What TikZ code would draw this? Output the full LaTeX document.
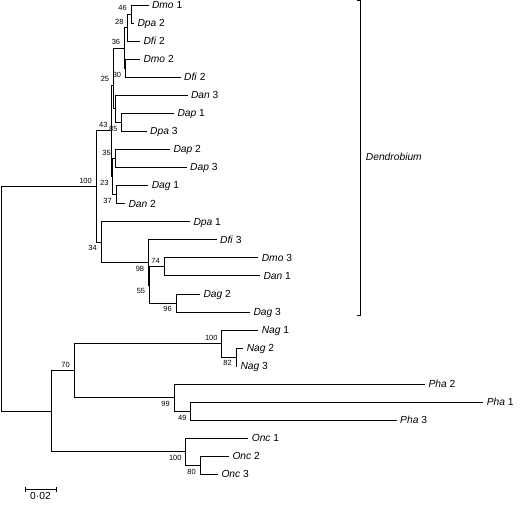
\documentclass[tikz,border=0pt]{standalone}
\usepackage{fontspec}
\setmainfont{Liberation Sans}
\usetikzlibrary{calc}

\tikzset{
  branch/.style={line width=0.6bp},
  taxon/.style={anchor=west, inner xsep=3.5bp, inner ysep=0pt, outer sep=0pt,
    text height=7.5bp, text depth=0.5bp, font=\fontsize{10.3}{12}\selectfont},
  bsup/.style={anchor=south east, inner sep=0pt, xshift=-4bp, yshift=3bp,
    font=\fontsize{7.5}{8}\selectfont},
  bsdown/.style={anchor=north east, inner sep=0pt, xshift=-4bp, yshift=-3.5bp,
    font=\fontsize{7.5}{8}\selectfont}
}

\begin{document}
\begin{tikzpicture}[x=1bp, y=-1bp]
\useasboundingbox (0,0) rectangle (520,514);

% Internal nodes
\coordinate (root)  at (0.8, 298.7);
\coordinate (n100d) at (96, 186.3);
\coordinate (n43)   at (111.7, 130.7);
\coordinate (n25)   at (113.3, 85);
\coordinate (n36)   at (124.3, 47.9);
\coordinate (n28)   at (127.7, 27.6);
\coordinate (n46)   at (131, 14);
\coordinate (n30)   at (125.3, 68.2);
\coordinate (nv)    at (115, 108.8);
\coordinate (n85)   at (121.7, 122.3);
\coordinate (n23)   at (112.7, 176.5);
\coordinate (n35)   at (115, 158.4);
\coordinate (n37)   at (116, 194.5);
\coordinate (n34)   at (101, 241.9);
\coordinate (n98)   at (148.3, 262.2);
\coordinate (n55)   at (149.3, 284.8);
\coordinate (n74)   at (164, 266.7);
\coordinate (n96)   at (176, 302.8);
\coordinate (nout)  at (51.7, 411.1);
\coordinate (n70)   at (74, 370.5);
\coordinate (n100n) at (221.7, 343.4);
\coordinate (n82)   at (236, 357);
\coordinate (n99)   at (174, 397.6);
\coordinate (n49)   at (190.7, 411.1);
\coordinate (n100o) at (185.7, 451.7);
\coordinate (n80)   at (200, 465.3);

% Taxa
\foreach \i/\g/\k/\x in {0/Dmo/1/148.5, 1/Dpa/2/134, 2/Dfi/2/140, 3/Dmo/2/140,
    4/Dfi/2/180.7, 5/Dan/3/187.5, 6/Dap/1/174, 7/Dpa/3/146.7, 8/Dap/2/170,
    9/Dap/3/186.7, 10/Dag/1/148.3, 11/Dan/2/125, 12/Dpa/1/190, 13/Dfi/3/216.7,
    14/Dmo/3/258.3, 15/Dan/1/260, 16/Dag/2/200, 17/Dag/3/250, 18/Nag/1/258.3,
    19/Nag/2/243.3, 20/Nag/3/237, 21/Pha/2/425, 22/Pha/1/483.3, 23/Pha/3/396.7,
    24/Onc/1/248.3, 25/Onc/2/229, 26/Onc/3/218} {
    \node[taxon] (l\i) at (\x, {5+18.05*\i}) {\textit{\g} \k};
}

% Branches
\foreach \p/\c in {root/n100d, root/nout, n100d/n43, n100d/n34, n43/n25, n43/n23,
    n25/n36, n25/nv, n36/n28, n36/n30, n28/n46, n28/l2, n46/l0, n46/l1,
    n30/l3, n30/l4, nv/l5, nv/n85, n85/l6, n85/l7, n23/n35, n23/n37,
    n35/l8, n35/l9, n37/l10, n37/l11, n34/l12, n34/n98, n98/l13, n98/n55,
    n55/n74, n55/n96, n74/l14, n74/l15, n96/l16, n96/l17,
    nout/n70, nout/n100o, n70/n100n, n70/n99, n100n/l18, n100n/n82,
    n82/l19, n82/l20, n99/l21, n99/n49, n49/l22, n49/l23,
    n100o/l24, n100o/n80, n80/l25, n80/l26} {
    \draw[branch] (\p) |- (\c);
}

% Bootstrap values
\foreach \n/\v in {n46/46, n28/28, n36/36, n25/25, n43/43, n35/35, n100d/100,
    n74/74, n70/70, n100n/100} {
    \node[bsup] (bs\n) at (\n) {\v};
}
\foreach \n/\v in {n30/30, n85/85, n23/23, n37/37, n34/34, n98/98, n55/55,
    n96/96, n82/82, n99/99, n49/49, n100o/100, n80/80} {
    \node[bsdown] (bs\n) at (\n) {\v};
}

% Dendrobium bracket
\coordinate (brtop) at (360.7, 0.8);
\coordinate (brbot) at (360.7, 315.5);
\draw[branch] ([xshift=-4bp]brtop) -- (brtop) -- (brbot) -- ([xshift=-4bp]brbot);
\node[anchor=west, inner sep=0pt, font=\fontsize{10.3}{12}\selectfont\itshape]
    (genus) at (365.7, 157.3) {Dendrobium};

% Scale bar
\coordinate (sbl) at (25, 489);
\coordinate (sbr) at (56, 489);
\draw[branch] (sbl) -- (sbr);
\draw[branch] ([yshift=2.5bp]sbl) -- ([yshift=-2.5bp]sbl);
\draw[branch] ([yshift=2.5bp]sbr) -- ([yshift=-2.5bp]sbr);
\node[below=3bp, inner sep=0pt, font=\fontsize{10.3}{12}\selectfont]
    (sblabel) at ($(sbl)!0.5!(sbr)$) {0·02};
\end{tikzpicture}
\end{document}
